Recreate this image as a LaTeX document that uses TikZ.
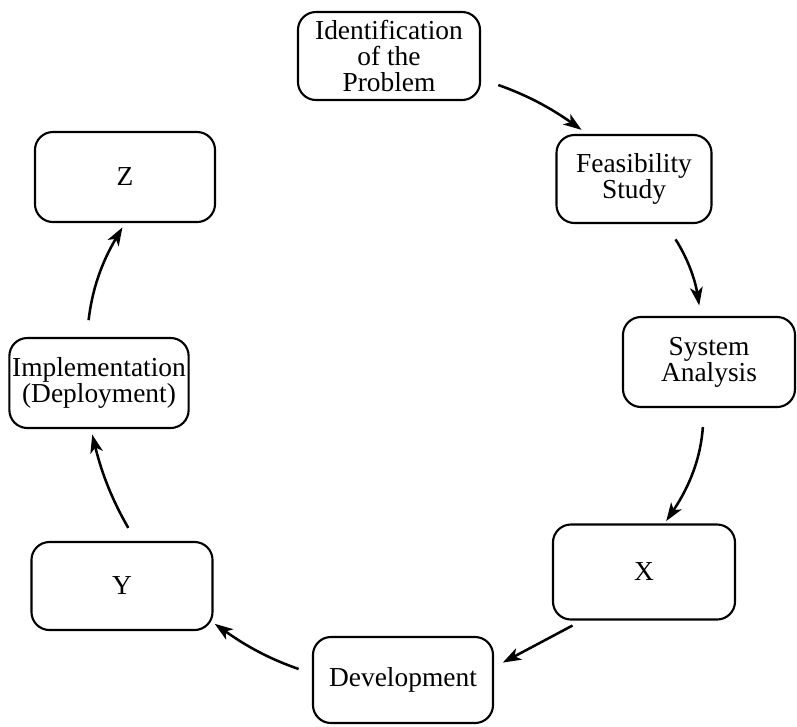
\documentclass[tikz,border=0pt]{standalone}
\usepackage{fontspec}
\setmainfont{Liberation Serif}
\usetikzlibrary{arrows.meta}
\begin{document}
\begin{tikzpicture}[x=0.025cm, y=-0.025cm,
	stage/.style={draw, line width=1.5pt, rounded corners=0.45cm, align=center, inner sep=2pt, font=\fontsize{19.5}{18.5}\selectfont},
	flow/.style={-{Stealth[length=13pt,width=9pt,inset=3.5pt]}, line width=1.8pt}]
		\useasboundingbox (0,0) rectangle (797,726);
		\node[stage, minimum width=4.55cm, minimum height=2.2cm] (ident) at (389,56) {Identification\\of the\\Problem};
		\node[stage, minimum width=3.875cm, minimum height=2.2cm] (feas) at (634,179) {Feasibility\\Study};
		\node[stage, minimum width=4.3cm, minimum height=2.25cm] (sys) at (709,362) {System\\Analysis};
		\node[stage, minimum width=4.55cm, minimum height=2.375cm] (x) at (644,572) {X};
		\node[stage, minimum width=4.5cm, minimum height=2.15cm] (dev) at (403,680) {Development};
		\node[stage, minimum width=4.525cm, minimum height=2.2cm] (y) at (122,586) {Y};
		\node[stage, minimum width=4.45cm, minimum height=2.25cm] (impl) at (99,383) {Implementation\\(Deployment)};
		\node[stage, minimum width=4.5cm, minimum height=2.25cm] (z) at (125,177) {Z};
		\draw[flow, shorten <=13pt, shorten >=5pt] (ident.-14) to[bend left=8] (feas.136);
		\draw[flow, shorten <=13pt, shorten >=7.5pt] (feas.-55) to[bend left=12] (sys.100);
		\draw[flow, shorten <=13.5pt, shorten >=2pt] (sys.-96) to[bend left=15] (x.67);
		\draw[flow, shorten <=7.5pt, shorten >=7pt] (x.-142) -- (dev.8);
		\draw[flow, shorten <=10pt, shorten >=1pt] (dev.176) to[bend left=8] (y.-22);
		\draw[flow, shorten <=10.7pt, shorten >=4pt] (y.73) to[bend left=8] (impl.-100);
		\draw[flow, shorten <=12pt, shorten >=3.5pt] (impl.105) to[bend left=12] (z.-90);
		\end{tikzpicture}
\end{document}
